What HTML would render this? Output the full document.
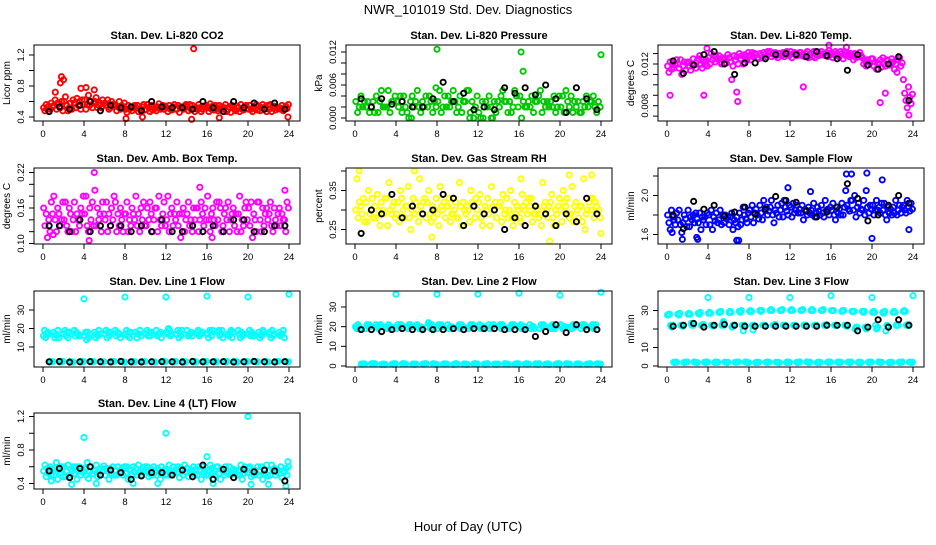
<!DOCTYPE html>
<html><head><meta charset="utf-8"><style>
body{margin:0;background:#fff}
svg text{font-family:"Liberation Sans",sans-serif;fill:#000}
</style></head><body>
<svg id="chart" width="936" height="540" viewBox="0 0 936 540" xmlns="http://www.w3.org/2000/svg">
<text x="468" y="14" text-anchor="middle" font-size="13">NWR_101019  Std. Dev. Diagnostics</text>
<text x="468" y="531" text-anchor="middle" font-size="13">Hour of Day (UTC)</text>
</svg>
<script>
// ---- data ----
const xTicks=[0,4,8,12,16,20,24];
const co2A=[0.52,0.55,0.6,0.58,0.62,0.6,0.58,0.56,0.5,0.52,0.5,0.48,0.52,0.5,0.53,0.5,0.52,0.48,0.5,0.52,0.5,0.54,0.5,0.52];
const co2B=[0.48,0.62,0.66,0.52,0.5,0.65,0.55,0.48,0.46,0.55,0.56,0.53,0.47,0.55,0.48,0.56,0.47,0.55,0.53,0.47,0.55,0.48,0.56,0.5];
const co2C=[0.56,0.5,0.55,0.64,0.56,0.52,0.62,0.53,0.55,0.47,0.52,0.57,0.55,0.46,0.56,0.52,0.57,0.5,0.46,0.56,0.5,0.52,0.47,0.55];
const co2D=[0.5,0.58,0.48,0.55,0.68,0.55,0.5,0.6,0.5,0.5,0.47,0.5,0.5,0.53,0.5,0.47,0.5,0.53,0.55,0.5,0.47,0.56,0.53,0.48];
const co2E=[0.54,0.57,0.52,0.6,0.55,0.58,0.52,0.5,0.53,0.5,0.55,0.52,0.49,0.52,0.55,0.5,0.54,0.5,0.52,0.49,0.53,0.5,0.54,0.5];
const co2F=[0.5,0.52,0.58,0.5,0.6,0.52,0.6,0.55,0.48,0.53,0.49,0.55,0.53,0.5,0.51,0.54,0.49,0.52,0.5,0.54,0.51,0.53,0.49,0.54];
const co2G=[0.58,0.6,0.5,0.62,0.52,0.62,0.56,0.52,0.52,0.56,0.53,0.5,0.56,0.54,0.47,0.53,0.55,0.56,0.48,0.55,0.56,0.47,0.52,0.51];
const co2H=[0.53,0.48,0.62,0.56,0.58,0.57,0.54,0.58,0.55,0.49,0.51,0.54,0.5,0.56,0.52,0.55,0.51,0.47,0.54,0.51,0.49,0.55,0.51,0.56];
const co2OutX=[1.8,2.0,1.7,3.7,4.2,5,14.7,8.1,14.5,17.2,23.9,1.2,9.7];
const co2OutY=[0.92,0.88,0.84,0.77,0.78,0.75,1.28,0.38,0.37,0.39,0.4,0.72,0.4];
const co2Blk=[0.47,0.53,0.5,0.55,0.6,0.48,0.55,0.52,0.53,0.48,0.6,0.53,0.52,0.52,0.5,0.6,0.52,0.47,0.6,0.52,0.58,0.5,0.58,0.5];

const prA=[0.003,0.002,0.004,0.002,0.003,0.001,0.005,0.002,0.003,0.004,0.002,0.005,0.001,0.004,0.002,0.003,0.004,0.002,0.005,0.003,0.002,0.004,0.001,0.003];
const prB=[0.001,0.003,0.001,0.005,0.002,0,0.002,0.004,0.005,0.002,0.004,0.001,0,0.002,0.004,0.001,0,0.004,0.001,0.002,0.004,0.001,0.003,0.004];
const prC=[0.002,0.001,0.003,0.001,0.004,0.003,0.001,0.003,0.001,0.003,0.001,0.003,0.003,0,0.005,0.002,0.003,0.001,0.003,0.004,0.001,0.003,0.002,0.002];
const prD=[0.004,0.002,0.005,0.003,0.001,0.004,0.003,0.001,0.002,0.005,0.003,0,0.002,0.003,0.003,0.005,0.002,0.003,0.002,0.001,0.005,0.002,0.004,0.001];
const prE=[0.002,0.003,0.002,0.003,0.004,0.002,0.002,0.003,0.004,0.003,0.003,0.002,0.003,0.001,0.003,0.004,0.002,0.003,0.003,0.002,0.003,0.003,0.002,0.003];
const prF=[0.003,0.001,0.002,0.004,0.002,0.003,0.004,0.002,0.002,0.001,0.005,0.004,0.002,0.003,0.001,0.002,0.003,0.004,0.002,0.004,0.002,0.001,0.003,0.002];
const prOutX=[8,16.2,16.4,24,7.9,5.5,12.5,13.3,11.2];
const prOutY=[0.0125,0.012,0.0085,0.0115,0.0055,0,0,0,0];
const prBlk=[0.0035,0.002,0.0035,0.0025,0.003,0.002,0.002,0.0035,0.0065,0.003,0.0045,0.0015,0.002,0.0015,0.0055,0.0045,0.0055,0.0042,0.006,0.0035,0.001,0.0055,0.0035,0.0015];

const tmA=[0.0118,0.012,0.0122,0.0125,0.0126,0.0128,0.0126,0.013,0.0128,0.013,0.0132,0.013,0.0132,0.0131,0.013,0.0132,0.0131,0.013,0.0128,0.0126,0.0125,0.0126,0.0122,0.0105];
const tmB=[0.0112,0.0116,0.0118,0.0128,0.012,0.0122,0.0122,0.0125,0.0124,0.0128,0.0127,0.0128,0.0126,0.0128,0.0127,0.0129,0.0126,0.0125,0.0124,0.012,0.0118,0.012,0.0115,0.0092];
const tmC=[0.0122,0.0124,0.0114,0.012,0.013,0.012,0.0105,0.0128,0.0131,0.0126,0.013,0.0131,0.013,0.0129,0.0132,0.013,0.0129,0.0132,0.013,0.0123,0.0122,0.0118,0.012,0.0085];
const tmD=[0.0115,0.011,0.012,0.0116,0.0124,0.0126,0.0118,0.012,0.0127,0.0131,0.0129,0.0127,0.0131,0.0127,0.0126,0.0128,0.0132,0.0128,0.0126,0.0118,0.0115,0.0124,0.0112,0.0078];
const tmE=[0.0121,0.0118,0.0125,0.0122,0.0128,0.0124,0.0128,0.0129,0.013,0.0129,0.0131,0.0129,0.013,0.013,0.0131,0.0131,0.013,0.0131,0.0129,0.0124,0.0121,0.0123,0.0124,0.0098];
const tmF=[0.0116,0.0122,0.0119,0.0119,0.0122,0.0125,0.0124,0.0127,0.0129,0.0127,0.0128,0.0132,0.0128,0.0132,0.0129,0.0127,0.0128,0.0129,0.0127,0.0122,0.012,0.0119,0.0126,0.0088];
const tmG=[0.0119,0.0114,0.0116,0.0124,0.0127,0.0121,0.0127,0.0124,0.0126,0.0132,0.0126,0.013,0.0129,0.0126,0.0128,0.0133,0.0127,0.0127,0.0131,0.0121,0.0124,0.0121,0.0118,0.0082];
const tmH=[0.0124,0.0121,0.0123,0.0118,0.0125,0.0129,0.012,0.0131,0.0125,0.013,0.013,0.0128,0.0131,0.0129,0.013,0.0129,0.0132,0.013,0.0128,0.0125,0.0117,0.0125,0.0121,0.0091];
const tmOutX=[0.3,3.6,6.8,6.9,13.3,20.8,21.3,23.6,3.9,15.8,17.5];
const tmOutY=[0.009,0.009,0.0093,0.0084,0.0098,0.0083,0.0092,0.0071,0.0135,0.0138,0.0136];
const tmBlk=[0.0123,0.0111,0.0119,0.0129,0.0132,0.012,0.011,0.0121,0.0121,0.0125,0.0129,0.013,0.0129,0.0127,0.0132,0.0128,0.0125,0.0114,0.0129,0.0119,0.0115,0.012,0.0127,0.0085];

const abA=[0.16,0.18,0.14,0.17,0.15,0.19,0.14,0.17,0.15,0.18,0.13,0.16,0.14,0.17,0.15,0.16,0.18,0.14,0.17,0.15,0.16,0.17,0.15,0.16];
const abB=[0.13,0.14,0.17,0.12,0.18,0.13,0.17,0.12,0.17,0.13,0.16,0.12,0.18,0.13,0.17,0.12,0.14,0.17,0.12,0.18,0.13,0.14,0.17,0.13];
const abC=[0.15,0.12,0.13,0.15,0.13,0.16,0.12,0.15,0.12,0.15,0.14,0.18,0.12,0.15,0.13,0.14,0.12,0.16,0.14,0.12,0.17,0.12,0.13,0.15];
const abD=[0.11,0.16,0.12,0.14,0.12,0.14,0.15,0.13,0.14,0.12,0.17,0.14,0.15,0.11,0.14,0.17,0.15,0.12,0.15,0.14,0.11,0.16,0.12,0.14];
const abE=[0.14,0.15,0.16,0.13,0.16,0.15,0.13,0.16,0.13,0.16,0.15,0.13,0.16,0.15,0.12,0.15,0.16,0.13,0.16,0.13,0.15,0.13,0.16,0.14];
const abF=[0.12,0.13,0.15,0.16,0.14,0.12,0.16,0.14,0.16,0.14,0.12,0.15,0.13,0.16,0.16,0.13,0.14,0.15,0.13,0.16,0.14,0.15,0.14,0.12];
const abG=[0.17,0.14,0.12,0.15,0.17,0.17,0.14,0.12,0.15,0.17,0.14,0.17,0.15,0.12,0.14,0.16,0.13,0.16,0.15,0.17,0.12,0.16,0.13,0.17];
const abH=[0.15,0.17,0.14,0.18,0.13,0.15,0.18,0.15,0.14,0.13,0.16,0.13,0.14,0.14,0.16,0.14,0.17,0.14,0.12,0.14,0.17,0.14,0.15,0.16];
const abOutX=[5,15.3,23.6,4.5,1,16.5];
const abOutY=[0.22,0.195,0.19,0.105,0.115,0.11];
const abBlk=[0.13,0.13,0.12,0.14,0.12,0.13,0.13,0.13,0.12,0.13,0.12,0.14,0.12,0.12,0.13,0.12,0.13,0.12,0.14,0.14,0.12,0.12,0.13,0.13];

const rhA=[0.30,0.32,0.28,0.33,0.29,0.31,0.30,0.32,0.29,0.31,0.28,0.30,0.32,0.29,0.31,0.30,0.28,0.31,0.29,0.32,0.30,0.29,0.31,0.30];
const rhB=[0.38,0.27,0.34,0.26,0.32,0.36,0.27,0.35,0.26,0.33,0.37,0.27,0.34,0.26,0.32,0.35,0.27,0.33,0.26,0.34,0.27,0.36,0.27,0.33];
const rhC=[0.28,0.35,0.30,0.37,0.27,0.28,0.38,0.29,0.36,0.27,0.31,0.35,0.28,0.36,0.27,0.28,0.34,0.27,0.37,0.28,0.35,0.27,0.38,0.28];
const rhD=[0.32,0.29,0.26,0.30,0.35,0.25,0.31,0.27,0.31,0.29,0.26,0.32,0.26,0.31,0.34,0.26,0.31,0.29,0.31,0.26,0.32,0.31,0.25,0.32];
const rhE=[0.31,0.30,0.32,0.29,0.33,0.30,0.29,0.31,0.30,0.29,0.32,0.31,0.29,0.30,0.29,0.32,0.30,0.29,0.32,0.30,0.31,0.32,0.29,0.31];
const rhF=[0.29,0.33,0.30,0.31,0.30,0.33,0.32,0.28,0.32,0.30,0.30,0.28,0.31,0.32,0.30,0.29,0.32,0.31,0.30,0.29,0.33,0.30,0.30,0.29];
const rhG=[0.33,0.28,0.29,0.32,0.28,0.29,0.33,0.30,0.28,0.32,0.29,0.33,0.30,0.28,0.33,0.31,0.29,0.30,0.28,0.31,0.29,0.28,0.32,0.30];
const rhH=[0.27,0.31,0.33,0.28,0.31,0.32,0.28,0.33,0.31,0.28,0.31,0.30,0.33,0.31,0.28,0.30,0.33,0.28,0.31,0.33,0.28,0.31,0.33,0.28];
const rhOutX=[0.4,5.8,19,20.9,23.1,24,16.2,7.5];
const rhOutY=[0.40,0.40,0.22,0.39,0.39,0.24,0.38,0.23];
const rhBlk=[0.24,0.30,0.29,0.34,0.28,0.31,0.29,0.30,0.34,0.33,0.26,0.31,0.29,0.30,0.25,0.28,0.26,0.31,0.29,0.26,0.29,0.27,0.33,0.29];

const sfA=[1.80,1.75,1.85,1.72,1.80,1.75,1.70,1.82,1.85,1.90,1.88,1.85,1.88,1.82,1.85,1.90,1.85,1.92,1.95,1.85,1.90,1.85,1.88,1.90];
const sfB=[1.72,1.85,1.68,1.82,1.70,1.85,1.78,1.70,1.78,1.82,1.95,1.92,1.78,1.90,1.80,1.82,1.92,1.80,1.85,1.95,1.80,1.92,1.82,1.85];
const sfC=[1.65,1.70,1.78,1.65,1.85,1.70,1.82,1.75,1.90,1.75,1.80,1.78,1.92,1.75,1.92,1.78,1.80,1.88,2.0,1.80,1.85,1.80,1.95,1.82];
const sfD=[1.85,1.62,1.75,1.78,1.65,1.80,1.65,1.88,1.72,1.95,1.72,1.95,1.82,1.85,1.78,1.95,1.75,2.05,1.78,2.05,1.95,1.75,1.80,1.95];
const sfE=[1.78,1.72,1.80,1.75,1.78,1.72,1.75,1.80,1.82,1.85,1.85,1.88,1.85,1.85,1.82,1.85,1.88,1.90,1.88,1.88,1.85,1.88,1.85,1.88];
const sfF=[1.75,1.80,1.72,1.78,1.74,1.80,1.72,1.76,1.86,1.88,1.82,1.84,1.90,1.80,1.88,1.86,1.82,1.86,1.92,1.82,1.88,1.82,1.90,1.84];
const sfG=[1.70,1.76,1.82,1.70,1.82,1.76,1.78,1.72,1.80,1.80,1.90,1.80,1.82,1.88,1.84,1.80,1.86,1.84,1.82,1.90,1.82,1.86,1.82,1.92];
const sfH=[1.82,1.68,1.76,1.82,1.72,1.78,1.68,1.82,1.76,1.84,1.78,1.90,1.86,1.82,1.80,1.88,1.80,1.95,1.86,1.86,1.92,1.80,1.88,1.86];
const sfOutX=[1.5,3,6.8,7,17.5,18,19.5,20,21,11.8,14,23.6,0.5,2.9];
const sfOutY=[1.55,1.55,1.54,1.54,2.22,2.22,2.23,1.56,2.16,2.08,2.04,1.65,1.62,1.57];
const sfBlk=[1.80,1.66,1.94,1.86,1.90,1.79,1.83,1.88,1.81,1.86,1.99,1.95,1.93,1.84,1.78,1.83,1.88,2.12,1.97,1.74,1.80,1.90,2.00,1.92];

const l1A=[16,18,17,19,16,18,17,19,17,18,17,19,18,17,19,18,17,18,17,19,17,18,17,18];
const l1B=[19,15,19,16,18,15,19,16,19,15,19,16,17,19,16,19,15,19,16,17,19,15,18,16];
const l1C=[15,17,16,18,14,17,15,18,16,17,16,17,20,15,17,16,19,16,18,15,16,17,15,17];
const l1D=[17,16,18,17,18,16,18,17,18,17,18,17,19,18,17,17,18,17,19,18,18,16,19,17];
const l1E=[18,19,15,17,15,19,16,17,15,19,16,18,16,16,18,17,16,19,15,16,17,19,16,19];
const l1F=[17,15,18,16,17,17,18,15,18,16,18,15,17,19,16,18,19,15,18,17,16,18,17,15];
const l1LowA=[2,1.8,2.2,2,1.9,2.1,2,2.2,1.8,2,2.1,1.9,2,2.2,1.8,2,2,2.1,1.9,2,2.2,1.8,2,2.1];
const l1LowB=[1.9,2.1,2,1.8,2.2,2,1.9,2,2.1,1.9,2,2.2,1.8,2,2.1,1.9,2.2,2,2,1.8,2,2.1,1.9,2];
const l1LowC=[2.1,2,1.9,2.2,2,1.8,2.1,1.9,2,2.2,1.9,2,2.1,1.8,2,2.2,1.9,1.8,2.1,2.2,1.9,2,2.1,1.9];
const l1LowD=[2,2.2,1.8,2.1,2,2,2.2,1.8,2,2.1,1.8,2,2.2,2,1.9,2.1,2,2.2,1.8,2.1,2,1.9,2.2,2];
const l1OutX=[4,8,12,16,20,24];
const l1OutY=[36,37,37,37.5,37,38.5];
const l1Blk=[2,2.2,1.8,2,2.1,2,1.9,2.2,2,1.9,2,2.1,2,1.9,2.2,2,2,2.1,1.9,2,2.2,2,1.9,2.1];

const l2A=[20,19,21,20,19,20,21,20,19,21,20,19,20,21,20,19,20,21,19,20,21,20,19,20];
const l2B=[19,21,20,19,21,19,20,22,21,19,21,20,21,19,21,20,21,19,21,19,20,19,21,21];
const l2C=[21,20,19,21,20,21,19,21,20,20,19,21,19,20,19,21,19,20,20,21,19,21,20,19];
const l2D=[20,21,20,19,20,21,20,19,21,20,21,20,19,20,21,20,19,20,21,20,19,20,21,20];
const l2E=[19,20,21,20,21,20,19,21,20,19,20,21,20,21,20,21,20,19,20,19,20,21,20,21];
const l2LowA=[1,1.2,0.8,1,1.1,0.9,1,1.2,1,0.8,1,1.1,1,0.9,1.2,1,1,1.1,0.9,1,1.2,1,0.9,1.1];
const l2LowB=[0.9,1.1,1,0.8,1.2,1,0.9,1,1.1,0.9,1,1.2,0.8,1,1.1,0.9,1.2,1,1,0.8,1,1.1,0.9,1];
const l2LowC=[1.1,1,0.9,1.2,1,0.8,1.1,0.9,1,1.2,0.9,1,1.1,0.8,1,1.2,0.9,0.8,1.1,1.2,0.9,1,1.1,0.9];
const l2LowD=[1,1.2,0.8,1.1,1,1,1.2,0.8,1,1.1,0.8,1,1.2,1,0.9,1.1,1,1.2,0.8,1.1,1,0.9,1.2,1];
const l2OutX=[4,8,12,16,20,24];
const l2OutY=[36.5,36.5,36.5,37,36,37.5];
const l2Blk=[18.5,18.5,17.5,18.5,19,18.5,18.5,18.5,18.5,19,18.5,19,19,19,18.5,18.5,18.5,15,17.5,21,17,21,18.5,18.5];

const l3A=[27.5,28,28,28.5,28.5,29,29,29.5,29.5,30,30,30,30,30,30,30,30,29.5,29.5,29.5,29,29,29,29.5];
const l3B=[28,27.5,28.5,28,29,29,29.5,29,30,29.5,30.5,30,30.5,30,30.5,30,30,30,29.5,29,29.5,28.5,29.5,30];
const l3E=[28,28.5,28,29,28.5,29.5,29,30,29.5,30,30,30.5,30,30.5,30,30.5,30,30,29.5,29.5,29,29.5,29,29.5];
const l3C=[22,22,23,22,22,22,21,22,22,22,22,22,22,22,22,22,22,22,20,21,22,19,22,22];
const l3D=[21,22,22,22,22,23,22,19,22,22,22,22,22,22,22,22,22,22,21,20,20,22,22,22];
const l3F=[22,21.5,22,22.5,21.5,22,22,22,21.5,22,22.5,22,21.5,22,22,22.5,22,21.5,21,21,21,21.5,22,22.5];
const l3LowA=[2,1.8,2.2,2,1.9,2.1,2,2.2,1.8,2,2.1,1.9,2,2.2,1.8,2,2,2.1,1.9,2,2.2,1.8,2,2.1];
const l3LowB=[1.9,2.1,2,1.8,2.2,2,1.9,2,2.1,1.9,2,2.2,1.8,2,2.1,1.9,2.2,2,2,1.8,2,2.1,1.9,2];
const l3LowC=[2.1,2,1.9,2.2,2,1.8,2.1,1.9,2,2.2,1.9,2,2.1,1.8,2,2.2,1.9,1.8,2.1,2.2,1.9,2,2.1,1.9];
const l3LowD=[2,2.2,1.8,2.1,2,2,2.2,1.8,2,2.1,1.8,2,2.2,2,1.9,2.1,2,2.2,1.8,2.1,2,1.9,2.2,2];
const l3OutX=[4,8,12,16,20,24,5.5,8.4];
const l3OutY=[37,37,37,38,37,38,24,19.5];
const l3Blk=[21.5,22,23,21,22,22.5,22,21.5,21.5,21.5,21.5,21.5,21.5,21.5,21.5,22,22,22,19,21,25,21,25,22];

const l4A=[0.55,0.5,0.6,0.52,0.58,0.55,0.5,0.56,0.52,0.58,0.55,0.5,0.57,0.53,0.58,0.5,0.55,0.6,0.52,0.55,0.58,0.5,0.55,0.52];
const l4B=[0.62,0.58,0.48,0.6,0.5,0.62,0.58,0.5,0.6,0.5,0.6,0.58,0.5,0.6,0.48,0.6,0.5,0.52,0.6,0.5,0.6,0.55,0.5,0.6];
const l4C=[0.48,0.65,0.55,0.45,0.65,0.48,0.55,0.6,0.45,0.62,0.48,0.55,0.62,0.47,0.55,0.56,0.62,0.45,0.5,0.62,0.48,0.6,0.62,0.47];
const l4D=[0.58,0.45,0.62,0.56,0.46,0.57,0.45,0.52,0.57,0.53,0.52,0.45,0.55,0.58,0.52,0.45,0.58,0.56,0.55,0.45,0.55,0.45,0.56,0.55];
const l4E=[0.52,0.56,0.5,0.6,0.54,0.5,0.58,0.54,0.56,0.5,0.57,0.6,0.52,0.55,0.56,0.6,0.52,0.54,0.57,0.52,0.5,0.57,0.58,0.54];
const l4F=[0.6,0.53,0.57,0.5,0.6,0.58,0.52,0.58,0.5,0.56,0.5,0.53,0.6,0.5,0.6,0.53,0.56,0.5,0.53,0.6,0.56,0.52,0.5,0.58];
const l4G=[0.5,0.6,0.54,0.57,0.52,0.54,0.6,0.5,0.6,0.54,0.6,0.56,0.54,0.62,0.5,0.56,0.5,0.6,0.56,0.56,0.52,0.62,0.54,0.5];
const l4H=[0.57,0.48,0.6,0.53,0.56,0.61,0.5,0.6,0.53,0.6,0.53,0.5,0.57,0.54,0.57,0.5,0.6,0.55,0.5,0.53,0.6,0.49,0.56,0.6];
const l4OutX=[4,12,20,16,0.8,2.8,5.2,8.8,11.2,16.6,20.3,22,23.7,23.9];
const l4OutY=[0.95,1.0,1.2,0.72,0.43,0.39,0.4,0.4,0.4,0.4,0.39,0.39,0.37,0.66];
const l4Blk=[0.55,0.58,0.47,0.58,0.6,0.5,0.56,0.53,0.45,0.49,0.53,0.53,0.5,0.56,0.48,0.62,0.45,0.57,0.47,0.57,0.54,0.56,0.55,0.43];

// ---- layout ----
const NS="http://www.w3.org/2000/svg";
const svg=document.getElementById('chart');
const COLS=[0,312,624], ROWS=[45,168,291,413], BH=76, BL=34, BW=266;
const FILLS={red:'#ff0000',green:'#00c800',magenta:'#ff00ff',yellow:'#ffff00',blue:'#0000ff',cyan:'#00ffff'};

const panels=[
 {name:'co2',col:0,row:0,title:'Stan. Dev. Li-820 CO2',yt:'Licor ppm',color:'red',v0:1.2,p0:10,v1:0.4,p1:72,ticks:[0.4,0.6,0.8,1.0,1.2],labels:['0.4','0.8','1.2'],lv:[0.4,0.8,1.2],series:[co2A,co2B,co2C,co2D,co2E,co2F,co2G,co2H],ox:co2OutX,oy:co2OutY,blk:co2Blk},
 {name:'pressure',col:1,row:0,title:'Stan. Dev. Li-820 Pressure',yt:'kPa',color:'green',v0:0.012,p0:7,v1:0,p1:73,ticks:[0,0.002,0.004,0.006,0.008,0.010,0.012],labels:['0.000','0.006','0.012'],lv:[0,0.006,0.012],series:[prA,prB,prC,prD,prE,prF],ox:prOutX,oy:prOutY,blk:prBlk},
 {name:'temp',col:2,row:0,title:'Stan. Dev. Li-820 Temp.',yt:'degrees C',color:'magenta',v0:0.012,p0:19,v1:0.008,p1:60.7,ticks:[0.007,0.008,0.009,0.010,0.011,0.012,0.013],labels:['0.008','0.012'],lv:[0.008,0.012],series:[tmA,tmB,tmC,tmD,tmE,tmF,tmG,tmH],ox:tmOutX,oy:tmOutY,blk:tmBlk},
 {name:'amb-box-temp',col:0,row:1,title:'Stan. Dev. Amb. Box Temp.',yt:'degrees C',color:'magenta',v0:0.22,p0:4.5,v1:0.10,p1:75.5,ticks:[0.10,0.12,0.14,0.16,0.18,0.20,0.22],labels:['0.10','0.16','0.22'],lv:[0.10,0.16,0.22],series:[abA,abB,abC,abD,abE,abF,abG,abH],ox:abOutX,oy:abOutY,blk:abBlk},
 {name:'gas-rh',col:1,row:1,title:'Stan. Dev. Gas Stream RH',yt:'percent',color:'yellow',v0:0.35,p0:22.5,v1:0.25,p1:61.5,ticks:[0.25,0.30,0.35,0.40],labels:['0.25','0.35'],lv:[0.25,0.35],series:[rhA,rhB,rhC,rhD,rhE,rhF,rhG,rhH],ox:rhOutX,oy:rhOutY,blk:rhBlk},
 {name:'sample-flow',col:2,row:1,title:'Stan. Dev. Sample Flow',yt:'ml/min',color:'blue',v0:2.0,p0:27.5,v1:1.6,p1:66.5,ticks:[1.6,1.8,2.0,2.2],labels:['1.6','2.0'],lv:[1.6,2.0],series:[sfA,sfB,sfC,sfD,sfE,sfF,sfG,sfH],ox:sfOutX,oy:sfOutY,blk:sfBlk},
 {name:'line1-flow',col:0,row:2,title:'Stan. Dev. Line 1 Flow',yt:'ml/min',color:'cyan',v0:30,p0:19,v1:10,p1:56,ticks:[10,20,30],labels:['10','20','30'],lv:[10,20,30],series:[l1A,l1B,l1C,l1D,l1E,l1F,l1LowA,l1LowB,l1LowC,l1LowD],ox:l1OutX,oy:l1OutY,blk:l1Blk},
 {name:'line2-flow',col:1,row:2,title:'Stan. Dev. Line 2 Flow',yt:'ml/min',color:'cyan',v0:30,p0:16,v1:0,p1:75,ticks:[0,10,20,30],labels:['0','10','20','30'],lv:[0,10,20,30],series:[l2A,l2B,l2C,l2D,l2E,l2LowA,l2LowB,l2LowC,l2LowD],ox:l2OutX,oy:l2OutY,blk:l2Blk},
 {name:'line3-flow',col:2,row:2,title:'Stan. Dev. Line 3 Flow',yt:'ml/min',color:'cyan',v0:30,p0:19.5,v1:0,p1:75,ticks:[0,10,20,30],labels:['0','10','30'],lv:[0,10,30],series:[l3A,l3B,l3E,l3C,l3D,l3F,l3LowA,l3LowB,l3LowC,l3LowD],ox:l3OutX,oy:l3OutY,blk:l3Blk},
 {name:'line4-flow',col:0,row:3,title:'Stan. Dev. Line 4 (LT) Flow',yt:'ml/min',color:'cyan',v0:1.2,p0:3.5,v1:0.4,p1:70.5,ticks:[0.4,0.6,0.8,1.0,1.2],labels:['0.4','0.8','1.2'],lv:[0.4,0.8,1.2],series:[l4A,l4B,l4C,l4D,l4E,l4F,l4G,l4H],ox:l4OutX,oy:l4OutY,blk:l4Blk}
];

function mk(tag,attrs,parent){const e=document.createElementNS(NS,tag);for(const k in attrs)e.setAttribute(k,attrs[k]);(parent||svg).appendChild(e);return e;}

panels.forEach(p=>{
  const g=mk('g',{});
  
  
  const left=BL+COLS[p.col], top=ROWS[p.row], bottom=top+BH;
  const xs=h=>left+9+h*10.25;
  const ys=v=>top+p.p0+(v-p.v0)*(p.p1-p.p0)/(p.v1-p.v0);
  const col=FILLS[p.color];
  const t=mk('text',{x:left+BW/2,y:top-6,'text-anchor':'middle','font-size':'11','font-weight':'bold'},g);
  t.textContent=p.title;
  
  
  const pts=mk('g',{fill:'none','stroke-width':'1.9'},g);
  
  
  const m=p.series.length;
  p.series.forEach((arr,j)=>{
    const n=arr.length;
    arr.forEach((v,i)=>{
      const c=mk('circle',{cx:xs((i+(j+0.5)/m)*24/n),cy:ys(v),r:2.6,stroke:col},pts);
      
      
    });
  });
  p.ox.forEach((x,i)=>{
    const c=mk('circle',{cx:xs(x),cy:ys(p.oy[i]),r:2.6,stroke:col},pts);
    
    
  });
  p.blk.forEach((v,i)=>{
    const c=mk('circle',{cx:xs((i+0.6)*24/p.blk.length),cy:ys(v),r:2.6,stroke:'#000'},pts);
    
    
  });
  const box=mk('rect',{x:left,y:top,width:BW,height:BH,fill:'none',stroke:'#000','stroke-width':'1'},g);
  
  
  const xa=mk('g',{},g);
  
  
  mk('line',{x1:xs(0),x2:xs(24),y1:bottom,y2:bottom,stroke:'#000'},xa);
  xTicks.forEach(h=>{
    mk('line',{x1:xs(h),x2:xs(h),y1:bottom,y2:bottom+5,stroke:'#000'},xa);
    const tl=mk('text',{x:xs(h),y:bottom+16,'text-anchor':'middle','font-size':'9.5'},xa);
    tl.textContent=h;
    
    
  });
  const ya=mk('g',{},g);
  
  
  p.ticks.forEach(v=>{
    mk('line',{x1:left-5,x2:left,y1:ys(v),y2:ys(v),stroke:'#000'},ya);
  });
  p.lv.forEach((v,i)=>{
    const y=ys(v), x=left-10;
    const tl=mk('text',{x:x,y:y,'text-anchor':'middle','font-size':'9.5',transform:`rotate(-90 ${x} ${y})`},ya);
    tl.textContent=p.labels[i];
    
    
  });
  const yx=left-24, yy=top+BH/2;
  const ytl=mk('text',{x:yx,y:yy,'text-anchor':'middle','font-size':'10',transform:`rotate(-90 ${yx} ${yy})`},g);
  ytl.textContent=p.yt;
  
  
});
</script>
</body></html>
